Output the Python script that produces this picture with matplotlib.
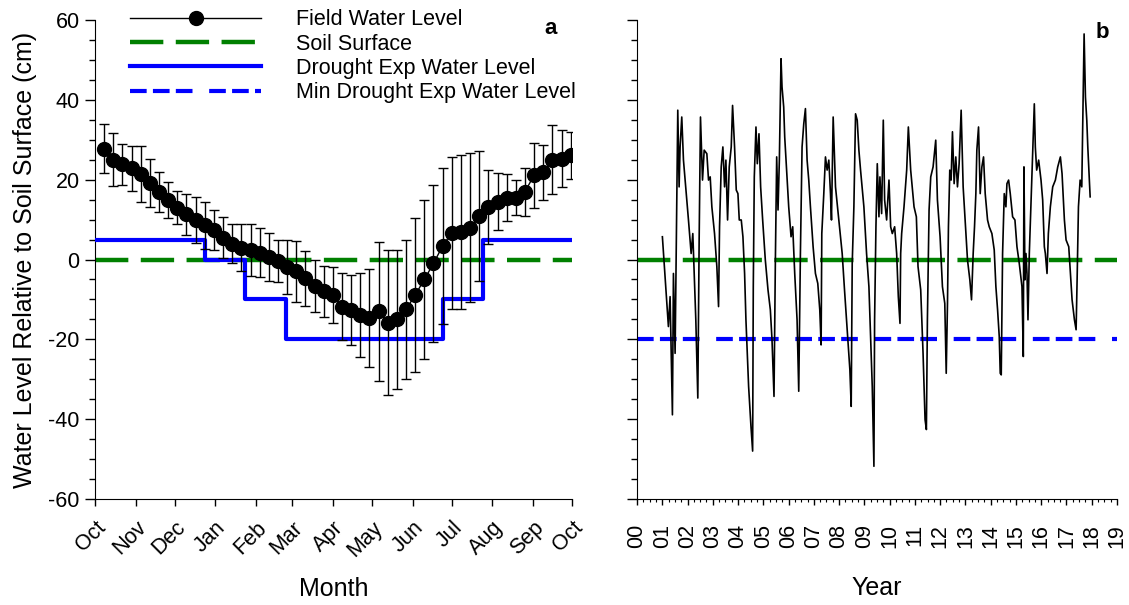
import matplotlib
matplotlib.use('Agg')
import matplotlib.pyplot as plt
from matplotlib.lines import Line2D
from matplotlib.ticker import MultipleLocator, FixedLocator

plt.rcParams['font.family'] = ['Liberation Sans', 'DejaVu Sans']
plt.rcParams['axes.unicode_minus'] = False

# ---------------- Panel a data ----------------
month_days = [0, 31, 61, 92, 123, 151, 182, 212, 243, 273, 304, 335, 365]
month_labels = ['Oct', 'Nov', 'Dec', 'Jan', 'Feb', 'Mar', 'Apr', 'May',
                'Jun', 'Jul', 'Aug', 'Sep', 'Oct']
week = list(range(1, 53))
field_mean = [27.8, 25.0, 23.8, 22.8, 21.5, 19.2, 17.0, 15.0, 13.0, 11.3,
              9.9, 8.6, 7.4, 5.5, 4.0, 3.0, 2.4, 1.7, 0.7, -0.3,
              -1.8, -3.0, -4.7, -6.6, -8.0, -8.9, -11.8, -12.6, -13.9, -14.7,
              -13.0, -15.8, -15.0, -12.5, -8.9, -5.0, -1.0, 3.4, 6.7, 7.0,
              8.0, 10.9, 13.2, 14.5, 15.5, 15.5, 17.0, 21.1, 21.8, 25.0,
              25.3, 26.1]
field_sd = [6.2, 6.7, 5.1, 5.7, 7.0, 6.1, 5.0, 4.5, 4.1, 5.2,
            5.7, 5.9, 5.0, 5.1, 4.9, 5.9, 6.5, 6.1, 6.0, 5.3,
            6.8, 7.7, 6.9, 6.5, 6.4, 7.1, 8.4, 8.7, 10.5, 12.2,
            17.5, 18.2, 17.4, 17.4, 19.4, 19.9, 19.6, 19.6, 19.0, 19.3,
            18.7, 16.3, 9.2, 7.2, 5.8, 4.4, 6.0, 8.2, 7.0, 8.6,
            7.1, 5.9]
drought_day = [0, 84, 115, 146, 266, 297, 365]
drought_level = [5, 0, -10, -20, -10, 5, 5]
soil_surface = 0
min_drought_level = -20

# ---------------- Panel b data ----------------
year = [1.005, 1.243, 1.31, 1.402, 1.442, 1.508, 1.614, 1.667, 1.706, 1.772,
        1.839, 1.971, 2.037, 2.143, 2.209, 2.275, 2.328, 2.407, 2.460, 2.513,
        2.593, 2.659, 2.765, 2.831, 2.897, 2.963, 3.069, 3.161, 3.228, 3.267,
        3.333, 3.399, 3.466, 3.519, 3.585, 3.651, 3.730, 3.783, 3.862, 3.929,
        3.995, 4.048, 4.127, 4.193, 4.259, 4.312, 4.418, 4.511, 4.577, 4.603,
        4.643, 4.709, 4.762, 4.828, 4.894, 4.974, 5.079, 5.185, 5.278, 5.344,
        5.423, 5.476, 5.529, 5.582, 5.635, 5.701, 5.741, 5.807, 5.847, 5.939,
        6.005, 6.098, 6.164, 6.243, 6.336, 6.402, 6.468, 6.534, 6.601, 6.667,
        6.733, 6.799, 6.865, 6.971, 7.063, 7.156, 7.235, 7.288, 7.315, 7.394,
        7.460, 7.526, 7.593, 7.659, 7.698, 7.765, 7.857, 7.989, 8.122, 8.214,
        8.320, 8.426, 8.479, 8.519, 8.585, 8.651, 8.717, 8.783, 8.849, 8.981,
        9.087, 9.180, 9.246, 9.312, 9.378, 9.405, 9.458, 9.511, 9.577, 9.616,
        9.683, 9.749, 9.802, 9.881, 9.974, 10.040, 10.106, 10.198, 10.278, 10.344,
        10.410, 10.437, 10.476, 10.569, 10.675, 10.741, 10.833, 10.966, 11.058, 11.124,
        11.230, 11.323, 11.402, 11.455, 11.495, 11.561, 11.627, 11.720, 11.825, 11.892,
        11.997, 12.090, 12.183, 12.240, 12.290, 12.328, 12.381, 12.434, 12.487, 12.553,
        12.619, 12.685, 12.751, 12.831, 12.910, 12.989, 13.082, 13.175, 13.241, 13.307,
        13.360, 13.413, 13.452, 13.519, 13.585, 13.651, 13.717, 13.783, 13.876, 13.942,
        14.048, 14.140, 14.206, 14.273, 14.339, 14.378, 14.418, 14.471, 14.537, 14.603,
        14.643, 14.709, 14.775, 14.868, 14.960, 15.040, 15.132, 15.238, 15.291, 15.317,
        15.357, 15.397, 15.437, 15.476, 15.529, 15.595, 15.661, 15.727, 15.767, 15.820,
        15.899, 15.992, 16.058, 16.124, 16.164, 16.230, 16.283, 16.362, 16.455, 16.561,
        16.654, 16.759, 16.825, 16.918, 16.984, 17.090, 17.156, 17.222, 17.315, 17.381,
        17.421, 17.474, 17.540, 17.606, 17.646, 17.698, 17.751, 17.804, 17.844, 17.937]
level = [5.7, -16.8, -9.3, -38.9, -3.5, -23.5, 37.4, 18.2, 28.2, 35.7,
         24.9, 14.9, 9.9, 1.5, 6.5, -5.1, -15.1, -34.7, 4.9, 35.7,
         19.9, 27.4, 26.5, 19.9, 20.7, 13.2, 6.5, -1.8, -11.8, 8.2,
         23.2, 28.2, 18.2, 24.9, 9.9, 23.2, 28.2, 38.6, 28.2, 17.4,
         16.5, 9.9, 9.9, 5.7, -3.5, -15.1, -31.8, -41.8, -48.0, -6.8,
         20.7, 33.2, 24.0, 31.5, 18.2, 9.9, -0.1, -7.6, -12.6, -20.1,
         -34.3, -1.0, 25.7, 12.4, 24.9, 50.3, 43.2, 38.2, 30.7, 20.7,
         13.2, 5.7, 8.2, -3.5, -15.1, -33.0, 1.5, 28.2, 34.0, 37.8,
         24.9, 19.9, 13.2, 3.2, -3.5, -6.0, -12.6, -21.4, 6.5, 16.5,
         25.7, 22.4, 24.9, 16.5, 9.9, 35.7, 18.2, 9.9, 1.5, -7.6,
         -17.5, -27.6, -36.8, -1.0, 13.2, 36.5, 34.9, 27.4, 22.4, 13.2,
         1.5, -6.8, -19.3, -31.8, -51.8, -15.1, 8.2, 24.0, 10.7, 20.7,
         11.5, 34.9, 14.9, 9.9, 19.9, 8.2, 6.5, 8.2, 1.5, -9.3,
         -16.0, 1.5, 6.5, 13.2, 22.4, 33.2, 22.4, 13.2, 10.7, -1.8,
         -7.6, -23.5, -40.1, -42.6, -15.1, 12.4, 20.7, 23.2, 29.9, 14.9,
         5.7, -6.8, -11.0, -28.5, -11.0, 8.2, 22.4, 19.9, 32.0, 19.0,
         25.7, 18.2, 24.0, 37.4, 18.2, 9.9, -0.1, -5.1, -10.1, 1.5,
         8.2, 16.5, 27.4, 33.2, 16.5, 23.2, 25.7, 16.5, 9.9, 8.2,
         6.5, 2.4, -6.8, -12.6, -19.3, -28.5, -28.9, 1.5, 16.5, 13.2,
         19.0, 19.9, 16.5, 10.7, 9.9, 3.2, -1.0, -6.8, -24.3, 23.2,
         -5.1, 1.5, -3.5, -15.1, 1.5, 14.0, 26.5, 39.0, 28.2, 22.4,
         24.9, 19.9, 14.9, 3.2, 1.5, -3.5, 6.5, 13.2, 18.2, 19.9,
         23.2, 25.7, 21.5, 9.9, 4.9, 3.2, -3.5, -10.1, -15.1, -17.6,
         -5.1, 13.2, 19.9, 18.2, 34.9, 56.5, 40.7, 34.9, 28.2, 15.7]
year_ticks = list(range(0, 20))
year_labels = ['%02d' % y for y in year_ticks]

GREEN = '#008000'
BLUE = '#0000ff'
FS_TICK = 15.5
FS_LABEL = 18

fig = plt.figure(figsize=(11.29, 6.05), dpi=100)
W, H = 1129, 605
ax_a = fig.add_axes([95 / W, (H - 499) / H, 477 / W, 479 / H])
ax_b = fig.add_axes([637 / W, (H - 499) / H, 480 / W, 479 / H])

# ---------------- Panel a ----------------
week_days = [7 * w for w in week]
ax_a.plot([0, 365], [soil_surface, soil_surface], color=GREEN, lw=3.2,
          dashes=(7.5, 2.8), zorder=2)
ax_a.step(drought_day, drought_level, where='post', color=BLUE, lw=3.0, zorder=3)
ax_a.errorbar(week_days, field_mean, yerr=field_sd, fmt='o-', color='black',
              ms=10, lw=1.0, elinewidth=1.0, capsize=3.4, capthick=1.0, zorder=4)

ax_a.set_xlim(0, 365)
ax_a.set_ylim(-60, 60)
ax_a.xaxis.set_major_locator(FixedLocator(month_days))
ax_a.set_xticklabels(month_labels, rotation=45, ha='right', rotation_mode='anchor',
                     fontsize=FS_TICK)
ax_a.yaxis.set_major_locator(MultipleLocator(20))
ax_a.yaxis.set_minor_locator(MultipleLocator(5))
ax_a.tick_params(axis='y', which='major', length=7, width=1, labelsize=FS_TICK, pad=4)
ax_a.tick_params(axis='y', which='minor', length=4.3, width=1)
ax_a.tick_params(axis='x', which='major', length=5, width=1, pad=8)
for s in ('top', 'right'):
    ax_a.spines[s].set_visible(False)
ax_a.set_ylabel('Water Level Relative to Soil Surface (cm)', fontsize=FS_LABEL, labelpad=8)
ax_a.set_xlabel('Month', fontsize=FS_LABEL, labelpad=12)
ax_a.text(0.955, 1.005, 'a', transform=ax_a.transAxes, fontsize=16, fontweight='bold',
          ha='center', va='top')

handles = [
    Line2D([], [], color='black', lw=1.0, marker='o', ms=10),
    Line2D([], [], color=GREEN, lw=3.2, dashes=(7.5, 2.8)),
    Line2D([], [], color=BLUE, lw=3.0),
    Line2D([], [], color=BLUE, lw=3.0, dashes=(4, 1.5, 4, 1.5, 4, 4)),
]
labels = ['Field Water Level', 'Soil Surface', 'Drought Exp Water Level',
          'Min Drought Exp Water Level']
ax_a.legend(handles, labels, loc='upper left', bbox_to_anchor=(35 / 477, 1.022),
            frameon=False, fontsize=FS_TICK, handlelength=6.1, handletextpad=1.6,
            labelspacing=0.15, borderpad=0, borderaxespad=0)

# ---------------- Panel b ----------------
ax_b.plot([0, 19], [soil_surface, soil_surface], color=GREEN, lw=3.2,
          dashes=(7.5, 2.8), zorder=2)
ax_b.plot([0, 19], [min_drought_level, min_drought_level], color=BLUE, lw=3.0,
          dashes=(4, 1.5, 4, 1.5, 4, 4), zorder=2)
ax_b.plot(year, level, color='black', lw=1.2, zorder=3)
ax_b.set_xlim(0, 19)
ax_b.set_ylim(-60, 60)
ax_b.xaxis.set_major_locator(FixedLocator(year_ticks))
ax_b.set_xticklabels(year_labels, rotation=90, fontsize=FS_TICK)
ax_b.xaxis.set_minor_locator(MultipleLocator(0.25))
ax_b.yaxis.set_major_locator(MultipleLocator(20))
ax_b.yaxis.set_minor_locator(MultipleLocator(5))
ax_b.set_yticklabels([])
ax_b.tick_params(axis='y', which='major', length=7, width=1)
ax_b.tick_params(axis='y', which='minor', length=4.3, width=1)
ax_b.tick_params(axis='x', which='major', length=4, width=1, pad=14)
ax_b.tick_params(axis='x', which='minor', length=2.5, width=0.8)
for s in ('top', 'right'):
    ax_b.spines[s].set_visible(False)
ax_b.set_xlabel('Year', fontsize=FS_LABEL, labelpad=20)
ax_b.text(0.97, 0.995, 'b', transform=ax_b.transAxes, fontsize=16, fontweight='bold',
          ha='center', va='top')

fig.savefig('out.png', dpi=100)
